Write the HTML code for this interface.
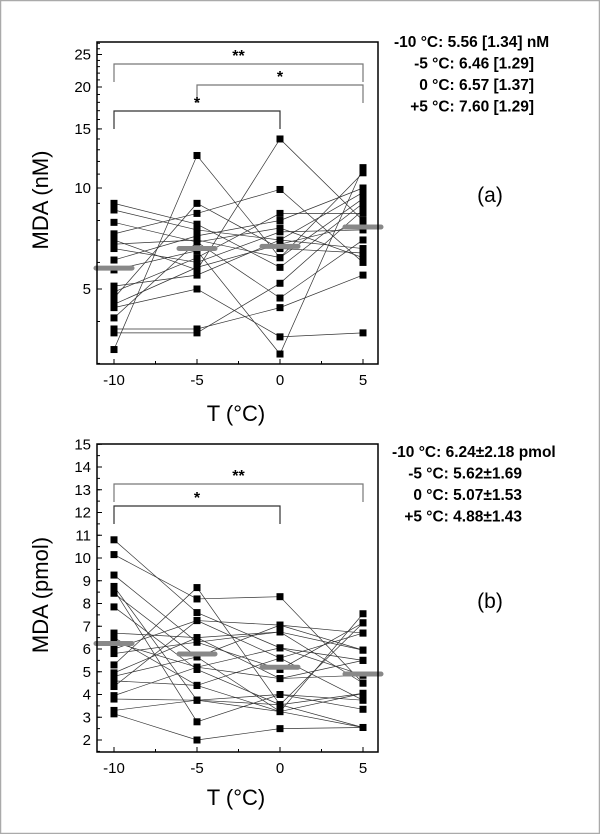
<!DOCTYPE html>
<html><head><meta charset="utf-8"><style>
body{margin:0;background:#fff}
svg{display:block;font-family:"Liberation Sans",Arial,sans-serif}
</style></head><body>
<svg id="c" width="600" height="834" viewBox="0 0 600 834" xmlns="http://www.w3.org/2000/svg"></svg>
<script>
const temps=[-10,-5,0,5];
const ticksA=[5,10,15,20,25];
const ticksB=[2,3,4,5,6,7,8,9,10,11,12,13,14,15];
const meansA=[5.77,6.6,6.7,7.65];
const meansB=[6.24,5.78,5.2,4.9];
const rowsA=[
[3.3,12.5,6.2,11.1],[9.0,7.8,5.8,9.0],[7.9,6.9,4.7,7.0],[7.3,8.4,9.9,6.0],[7.0,5.7,14,8.0],
[6.6,6.0,7.4,7.5],[6.1,7.2,8.0,10],[5.7,6.5,3.2,11.5],[5.1,5.5,7.0,9.7],[4.9,6.2,8.4,8.4],
[4.7,9.0,6.6,6.4],[4.4,5.0,3.6,3.7],[4.1,6.9,7.6,6.2],[3.8,3.8,4.4,5.5],[3.7,3.7,5.2,8.6],
[8.6,7.5,7.0,6.6],[6.8,7.0,6.2,9.3],[4.5,5.8,6.8,7.8]];
const rowsB=[
[10.8,7.6,6.05,5.5],[10.15,8.2,8.3,4.5],[9.25,6.3,5.1,7.15],[8.75,3.75,3.25,2.55],[8.6,2.8,4.0,3.35],
[8.45,5.65,7.05,6.7],[7.85,5.1,3.55,4.05],[6.7,6.5,6.75,5.95],[6.5,4.4,3.25,7.55],[6.3,5.2,4.7,4.85],
[6.0,7.25,5.6,3.75],[5.8,6.3,6.75,4.5],[5.3,8.7,3.55,2.55],[4.95,6.5,4.7,5.5],[4.8,5.65,3.25,4.05],
[4.6,4.4,5.6,6.7],[4.35,7.25,7.05,5.95],[3.95,5.2,6.05,4.85],[3.8,3.75,3.55,7.15],[3.3,3.75,4.0,3.75],[3.15,2.0,2.5,2.55]];
const statsA=["-10 °C: 5.56 [1.34] nM","-5 °C: 6.46 [1.29]","0 °C: 6.57 [1.37]","+5 °C: 7.60 [1.29]"];
const statsB=["-10 °C: 6.24±2.18 pmol","-5 °C: 5.62±1.69","0 °C: 5.07±1.53","+5 °C: 4.88±1.43"];

const S=document.getElementById('c');const NS='http://www.w3.org/2000/svg';
function el(t,a,p){const e=document.createElementNS(NS,t);for(const k in a)e.setAttribute(k,a[k]);(p||S).appendChild(e);return e;}
const X=v=>114+(v+10)*16.6;
const YA=v=>188-Math.log10(v/10)*335.5;
const YB=v=>740-(v-2)*22.75;

const border=el('rect',{x:0.5,y:0.5,width:599,height:833,fill:'none',stroke:'#aaa','stroke-width':1.5});



function panel(rows,means,Y,ticks,minors,top,bot,name,ytitle,ycen,tlab,stats,sx0,sxr,sy,plabel,ply,brackets){
 const g=el('g',{});
 
 
 rows.forEach(r=>{
  const pl=el('polyline',{points:r.map((v,i)=>X(temps[i])+','+Y(v)).join(' '),fill:'none',stroke:'#333','stroke-width':0.7},g);
  
  
 });
 rows.forEach(r=>r.forEach((v,i)=>{
  const m=el('rect',{x:X(temps[i])-3.5,y:Y(v)-3.5,width:7,height:7,fill:'#000'},g);
  
  
 }));
 means.forEach((v,i)=>{
  const b=el('line',{x1:X(temps[i])-18,x2:X(temps[i])+18,y1:Y(v),y2:Y(v),stroke:'#888','stroke-width':5,'stroke-linecap':'round'},g);
  
  
 });
 const fr=el('rect',{x:97,y:top,width:281,height:bot-top,fill:'none',stroke:'#000','stroke-width':1.5},g);
 
 
 minors.forEach(v=>el('line',{x1:97,x2:100,y1:Y(v),y2:Y(v),stroke:'#000'},g));
 ticks.forEach(v=>{
  el('line',{x1:97,x2:102,y1:Y(v),y2:Y(v),stroke:'#000'},g);
  const t=el('text',{x:91,y:Y(v)+5,'text-anchor':'end','font-size':15},g);t.textContent=v;
  
  
 });
 temps.forEach((v,i)=>{
  el('line',{x1:X(v),x2:X(v),y1:bot,y2:bot-5,stroke:'#000'},g);
  if(i<3) el('line',{x1:X(v+2.5),x2:X(v+2.5),y1:bot,y2:bot-3,stroke:'#000'},g);
  const t=el('text',{x:X(v),y:bot+21,'text-anchor':'middle','font-size':15},g);t.textContent=v;
  
  
 });
 const yt=el('text',{x:0,y:0,transform:`translate(48,${ycen}) rotate(-90)`,'text-anchor':'middle','font-size':22},g);yt.textContent=ytitle;
 
 
 const xt=el('text',{x:236,y:tlab,'text-anchor':'middle','font-size':22},g);xt.textContent='T (°C)';
 
 
 stats.forEach((s,i)=>{
  const a=i===0?{x:sx0,'text-anchor':'start'}:{x:sxr,'text-anchor':'end'};
  const t=el('text',Object.assign(a,{y:sy+i*21.5,'font-size':15.5,'font-weight':'bold'}),g);t.textContent=s;
  
  
 });
 const pt=el('text',{x:490,y:ply,'text-anchor':'middle','font-size':21},g);pt.textContent=plabel;
 
 
 brackets.forEach(b=>{
  const x1=X(b[0]),x2=X(b[1]);
  const p=el('path',{d:`M${x1},${b[2]+18}V${b[2]}H${x2}V${b[2]+18}`,fill:'none',stroke:b[4],'stroke-width':1.2},g);
  
  
  const t=el('text',{x:(x1+x2)/2,y:b[2]-3,'text-anchor':'middle','font-size':16,'font-weight':'bold'},g);t.textContent=b[3];
  
  
 });
}
const minA=[];for(let v=3;v<=27;v++)minA.push(v);
const minB=[];for(let v=1.5;v<=15;v+=0.5)minB.push(v);
panel(rowsA,meansA,YA,ticksA,minA,42,364,'panel-a','MDA (nM)',200,421,statsA,394,534,47,'(a)',202,
 [[-10,5,64,'**','#777'],[-5,5,85,'*','#777'],[-10,0,111,'*','#333']]);
panel(rowsB,meansB,YB,ticksB,minB,444,752,'panel-b','MDA (pmol)',595,805,statsB,392,522,457,'(b)',608,
 [[-10,5,484,'**','#777'],[-10,0,506,'*','#333']]);
</script>
</body></html>
